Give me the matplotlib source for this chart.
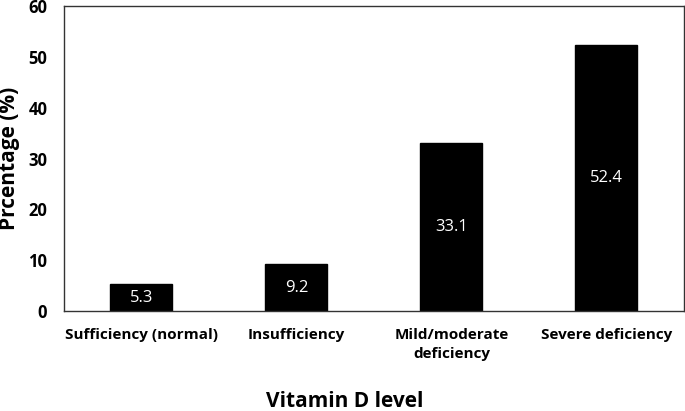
import matplotlib
matplotlib.use("Agg")
import matplotlib.pyplot as plt

plt.rcParams['font.family'] = ['Open Sans', 'DejaVu Sans']

# data
categories = ["Sufficiency (normal)", "Insufficiency", "Mild/moderate\ndeficiency", "Severe deficiency"]
percentages = [5.3, 9.2, 33.1, 52.4]
y_ticks = [0, 10, 20, 30, 40, 50, 60]

fig = plt.figure(figsize=(6.85, 4.11), dpi=100)
ax = fig.add_axes([0.0934, 0.2433, 0.905, 0.742])

x = range(len(categories))
ax.bar(x, percentages, width=0.4, color="black", edgecolor="black")
for xi, v in zip(x, percentages):
    ax.text(xi, v / 2, f"{v}", color="white", ha="center", va="center", fontsize=12)

ax.set_xlim(-0.5, 3.5)
ax.set_ylim(0, 60)
ax.set_yticks(y_ticks)
ax.set_xticks(list(x))
ax.set_xticklabels(categories, fontweight="bold", fontsize=11, linespacing=1.45)
ax.set_yticklabels([str(t) for t in y_ticks], fontweight="bold", fontsize=12)
ax.tick_params(axis="x", length=0, pad=12)
ax.tick_params(axis="y", length=0, pad=12)
for s in ax.spines.values():
    s.set_linewidth(1.0)
    s.set_color("#333333")

ax.set_ylabel("Prcentage (%)", fontweight="bold", fontsize=15, labelpad=6)
fig.text(345 / 685, 0.022, "Vitamin D level", fontweight="bold", fontsize=15,
         ha="center", va="center")

fig.savefig("out.png", dpi=100)
